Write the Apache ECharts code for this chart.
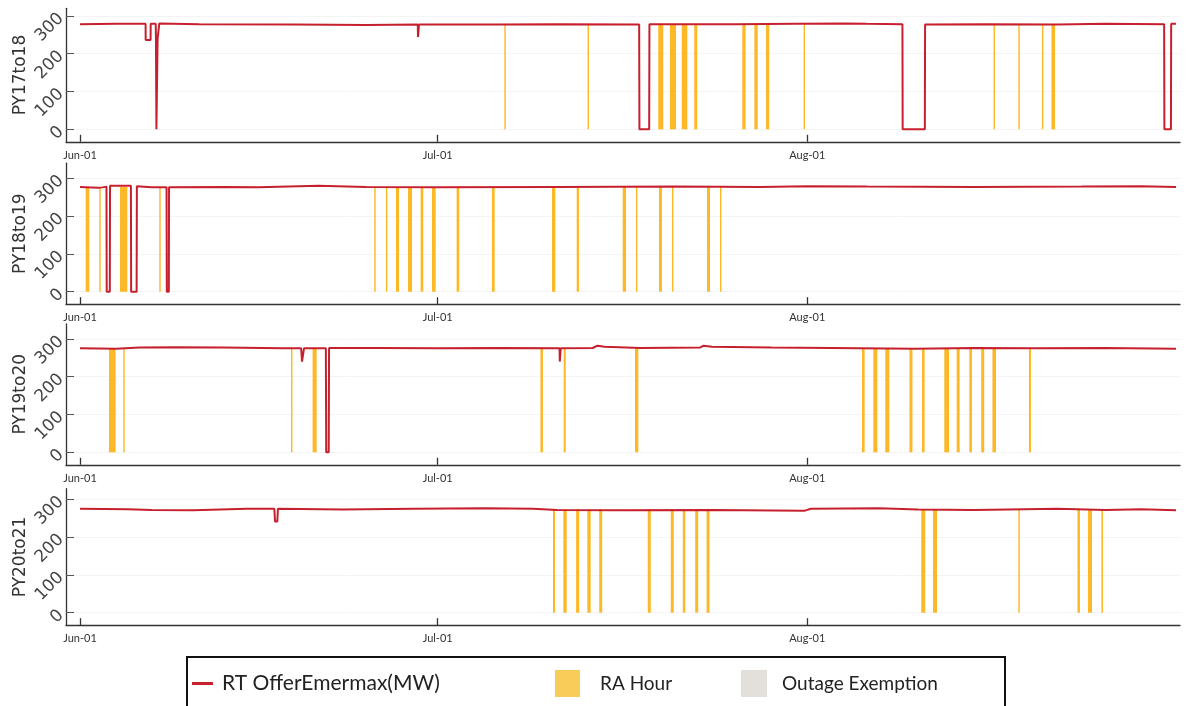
<!DOCTYPE html>
<html><head><meta charset="utf-8">
<script src="https://cdn.jsdelivr.net/npm/echarts@6/dist/echarts.min.js"></script>
<style>html,body{margin:0;padding:0;background:#fff}#c{width:1192px;height:706px}</style>
</head><body><div id="c"></div>
<script>
// ---- data (x = days since Jun-01 of each planning year, y = MW) ----
const panelNames = ['PY17to18', 'PY18to19', 'PY19to20', 'PY20to21'];
const xTickDays = [0, 30, 61];
const xTickLabels = ['Jun-01', 'Jul-01', 'Aug-01'];
const yTickValues = [0, 100, 200, 300];

const offer17 = [[0,278],[3,279],[5.50,279],[5.51,236],[5.92,236],[5.93,279],[6.35,279],[6.37,240],[6.41,0],[6.47,0],[6.51,240],[6.63,240],[6.65,280],[10,278],[18,277],[24,276],[28.33,277],[28.35,244],[28.41,244],[28.43,277],[35,277],[40,278],[46.90,277],[46.92,0],[47.74,0],[47.76,278],[55,278],[60,279],[64,280],[66,279],[68.98,278],[69.00,0],[70.86,0],[70.88,277],[76,278],[82,277],[86,279],[90.93,278],[90.95,0],[91.50,0],[91.52,279],[91.93,279]];
const offer18 = [[0,277],[1.5,275],[1.9,276],[2.22,278],[2.24,0],[2.50,0],[2.52,280],[4.27,280],[4.29,0],[4.75,0],[4.77,279],[6,276],[7.26,276],[7.28,0],[7.45,0],[7.47,276],[12,277],[15,276],[20,280],[24,277],[30,276],[40,277],[50,278],[57,277],[61,279],[66,278],[75,277],[84,278],[89,279],[91.93,277]];
const offer19 = [[0,275],[3,274],[5,277],[8,278],[12,277],[17,275],[18.55,275],[18.62,240],[18.72,240],[18.79,275],[20.62,275],[20.65,0],[20.86,0],[20.89,276],[25,276],[30,275],[35,276],[40.22,275],[40.24,240],[40.30,240],[40.32,275],[43,276],[43.4,282],[44,279],[47,276],[52,277],[52.3,282],[53,279],[58,277],[63,276],[70,274],[75,276],[80,275],[86,276],[91.93,274]];
const offer20 = [[0,275],[4,274],[6,272],[9.5,271],[9.6,276],[14,275],[16.30,275],[16.36,241],[16.55,241],[16.60,275],[22,273],[28,275],[34,276],[38,275],[40,272],[45,271],[53,272],[60.8,270],[61.3,275],[67,276],[70.3,273],[75,272],[82,275],[86,272],[89,274],[91.93,271]];

// RA hour blocks: [start day, end day]
const ra17 = [[35.59,35.71],[42.57,42.69],[48.50,48.92],[49.48,49.99],[50.47,50.94],[51.52,51.77],[55.55,55.83],[56.56,56.84],[57.54,57.81],[60.69,60.81],[76.62,76.74],[78.70,78.82],[80.68,80.80],[81.48,81.78]];
const ra18 = [[0.48,0.78],[1.62,1.74],[3.35,3.97],[6.65,6.77],[24.68,24.80],[25.66,25.78],[26.50,26.76],[27.51,27.85],[28.57,28.79],[29.52,29.83],[31.59,31.81],[34.55,34.78],[39.59,39.87],[41.66,41.85],[45.52,45.80],[46.63,46.75],[48.56,48.81],[49.65,49.77],[52.59,52.84],[53.68,53.80]];
const ra19 = [[2.43,2.99],[3.63,3.75],[17.70,17.82],[19.51,19.85],[38.62,38.83],[40.57,40.74],[46.55,46.83],[65.59,65.81],[66.54,66.87],[67.54,67.88],[69.57,69.82],[70.62,70.84],[72.49,72.89],[73.53,73.78],[74.59,74.81],[75.59,75.84],[76.53,76.83],[79.59,79.76]];
const ra20 = [[39.67,39.84],[40.54,40.82],[41.61,41.87],[42.55,42.83],[43.55,43.80],[47.62,47.87],[49.55,49.80],[50.56,50.77],[51.60,51.85],[52.55,52.80],[70.56,70.89],[71.54,71.88],[78.70,78.82],[83.66,83.87],[84.54,84.88],[85.67,85.80]];
const raLevel = [278, 277, 275, 274];
const outageBlocks = [];

const offers = [offer17, offer18, offer19, offer20];
const ras = [ra17, ra18, ra19, ra20];

// ---- chart ----
const RED = '#c6202e', YEL = '#fdb827', GRAY = '#e3e0dc';
const yMax = [320, 340, 340, 328];
const zeroPx = [129.3, 291.7, 452.3, 612.7];
const pxPerMW = 0.378, yMin = -33;
const grids = [], xAxes = [], yAxes = [], series = [];
const font = 'DejaVu Sans';

panelNames.forEach((nm, i) => {
  grids.push({left: 66, width: 1114, top: zeroPx[i] - yMax[i] * pxPerMW, height: (yMax[i] - yMin) * pxPerMW,
    outerBoundsMode: 'none', containLabel: false});
  xAxes.push({
    type: 'value', gridIndex: i, min: -1.174, max: 92.26,
    axisLine: {onZero: false, lineStyle: {color: '#333', width: 1.3}},
    axisTick: {inside: true, length: 7, customValues: xTickDays, lineStyle: {color: '#333', width: 1.3}},
    axisLabel: {customValues: xTickDays, color: '#333', fontFamily: 'Lato', fontSize: 11, margin: 8,
      formatter: v => xTickLabels[xTickDays.indexOf(v)] || ''},
    splitLine: {show: false}
  });
  yAxes.push({
    type: 'value', gridIndex: i, min: yMin, max: yMax[i],
    name: nm, nameLocation: 'middle', nameGap: 37, nameMoveOverlap: false,
    nameTextStyle: {fontFamily: font, fontSize: 17, color: '#333'},
    axisLine: {show: true, onZero: false, lineStyle: {color: '#333', width: 1.3}},
    axisTick: {inside: true, length: 8, customValues: yTickValues, lineStyle: {color: '#555'}},
    axisLabel: {customValues: yTickValues, rotate: 45, color: '#444', fontFamily: font, fontSize: 17, margin: 5},
    splitLine: {show: true, lineStyle: {color: '#f4f4f4'}}
  });
  series.push({
    name: 'RA Hour', type: 'custom', xAxisIndex: i, yAxisIndex: i, z: 2,
    data: ras[i].map(r => [r[0], r[1], raLevel[i]]),
    encode: {x: [0, 1], y: 2},
    itemStyle: {color: YEL},
    renderItem: (params, api) => {
      const a = api.coord([api.value(0), api.value(2)]);
      const b = api.coord([api.value(1), 0]);
      return {type: 'rect', shape: {x: a[0], y: a[1], width: Math.max(b[0] - a[0], 1.3), height: b[1] - a[1]},
        style: {fill: YEL}};
    }
  });
  series.push({
    name: 'Outage Exemption', type: 'custom', xAxisIndex: i, yAxisIndex: i, z: 1,
    data: outageBlocks, itemStyle: {color: GRAY},
    renderItem: (params, api) => {
      const a = api.coord([api.value(0), yMax[i]]);
      const b = api.coord([api.value(1), yMin]);
      return {type: 'rect', shape: {x: a[0], y: a[1], width: b[0] - a[0], height: b[1] - a[1]}, style: {fill: GRAY}};
    }
  });
  series.push({
    name: 'RT OfferEmermax(MW)', type: 'line', xAxisIndex: i, yAxisIndex: i, z: 3,
    data: offers[i], showSymbol: false, symbol: 'none',
    lineStyle: {color: RED, width: 2}, itemStyle: {color: RED}, silent: true, animation: false
  });
});

const legendText = {fontFamily: 'Lato', fontSize: 19, color: '#222'};
const chart = echarts.init(document.getElementById('c'), null, {renderer: 'canvas'});
chart.setOption({
  animation: false,
  backgroundColor: '#fff',
  grid: grids, xAxis: xAxes, yAxis: yAxes, series: series,
  legend: [
    {data: [{name: 'RT OfferEmermax(MW)', icon: 'rect'}], left: 192, top: 673, padding: 0, itemWidth: 21, itemHeight: 3,
     textStyle: Object.assign({}, legendText, {fontSize: 21, padding: [0, 0, 0, 4]}), selectedMode: false},
    {data: [{name: 'RA Hour', icon: 'rect', itemStyle: {color: '#f9cc5a'}}], left: 555, top: 670, padding: 0, itemWidth: 25, itemHeight: 27,
     textStyle: Object.assign({}, legendText, {padding: [0, 0, 0, 15]}), selectedMode: false},
    {data: [{name: 'Outage Exemption', icon: 'rect'}], left: 741, top: 670, padding: 0, itemWidth: 26, itemHeight: 27,
     textStyle: Object.assign({}, legendText, {padding: [0, 0, 0, 10]}), selectedMode: false}
  ],
  graphic: [{type: 'rect', shape: {x: 187, y: 657, width: 818, height: 60},
    style: {fill: 'none', stroke: '#111', lineWidth: 2}, silent: true}]
});
</script></body></html>
